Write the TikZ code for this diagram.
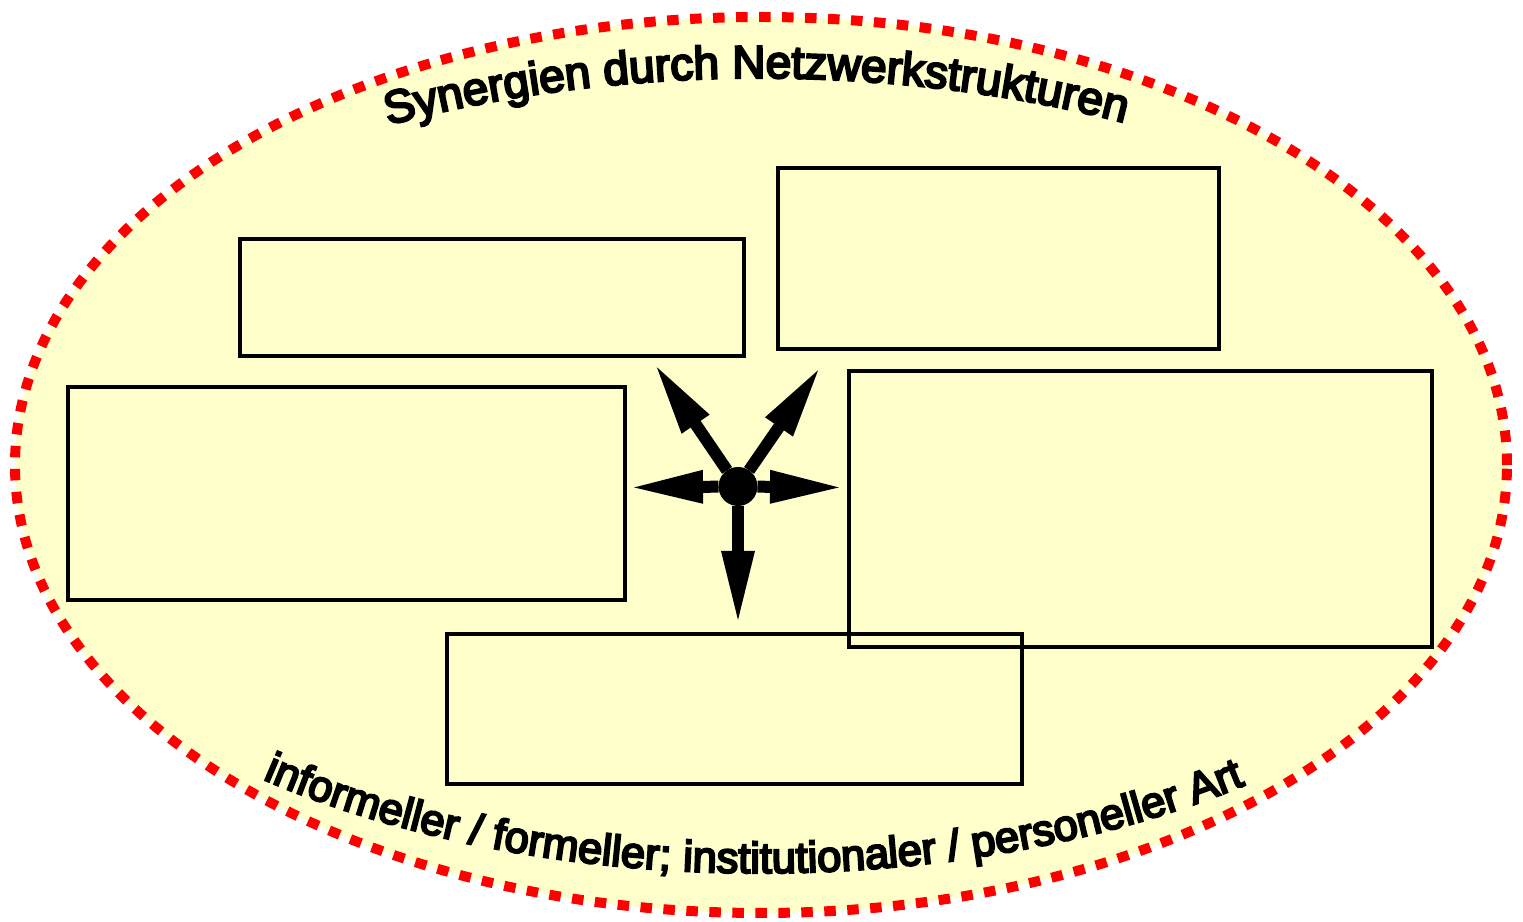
\documentclass[tikz,border=0pt]{standalone}
\usepackage{fontspec}
\newfontfamily\labfont{Liberation Sans}[FakeBold=5]
\usetikzlibrary{arrows.meta,decorations.text,calc}
\definecolor{fieldfill}{HTML}{FFFFCC}
\definecolor{rimred}{HTML}{FF0000}
\begin{document}
\begin{tikzpicture}[x=0.5pt,y=0.5pt,
  framebox/.style={draw=black, line width=1.9pt, inner sep=0pt, outer sep=0pt, line join=miter, rectangle},
  spoke/.style={line width=6pt, -{Triangle[length=37pt,width=15pt]}},
  rim/.style={draw=rimred, fill=fieldfill, line width=5pt, dash pattern=on 5.75pt off 5.75pt},
  hubdot/.style={circle, fill=black, inner sep=0pt, outer sep=0pt, minimum size=19.5pt}
]
\useasboundingbox (0,0) rectangle (1523,922);
% field
\path[rim] (761,457) ellipse [x radius=746, y radius=448];
% boxes
\node[framebox, minimum width=252pt,   minimum height=58.5pt]  (b1) at (492,624.5) {};
\node[framebox, minimum width=220.5pt, minimum height=90.5pt]  (b2) at (998.5,663.5) {};
\node[framebox, minimum width=278.5pt, minimum height=106.5pt] (b3) at (346.5,428.5) {};
\node[framebox, minimum width=291.5pt, minimum height=138pt]   (b4) at (1140.5,413) {};
\node[framebox, minimum width=287.5pt, minimum height=75pt]    (b5) at (734.5,213) {};
% curved labels
\path[decorate, decoration={text along path, text align=center,
  text={|\labfont\fontsize{23}{27}\selectfont|Synergien durch Netzwerkstrukturen}}]
  ([shift={(761,456)}]170:780 and 388) arc[start angle=170, end angle=11.32, x radius=780, y radius=388];
\path[decorate, decoration={text along path, text align=center,
  text={|\labfont\fontsize{21.7}{26}\selectfont|informeller / formeller; institutionaler / personeller Art}}]
  ([shift={(761,456)}]188.97:780 and 407) arc[start angle=188.97, end angle=348.97, x radius=780, y radius=407];
% hub and spokes
\node[hubdot] (hub) at (738,435.5) {};
\coordinate (tUL) at (654,559);
\coordinate (tUR) at (821,556);
\coordinate (tL) at (629,434.5);
\coordinate (tR) at (844,434.5);
\coordinate (tD) at (738,297);
\draw[spoke] (hub) -- (tUL);
\draw[spoke] (hub) -- (tUR);
\draw[spoke] (hub) -- (tL);
\draw[spoke] (hub) -- (tR);
\draw[spoke] (hub) -- (tD);
\end{tikzpicture}
\end{document}
